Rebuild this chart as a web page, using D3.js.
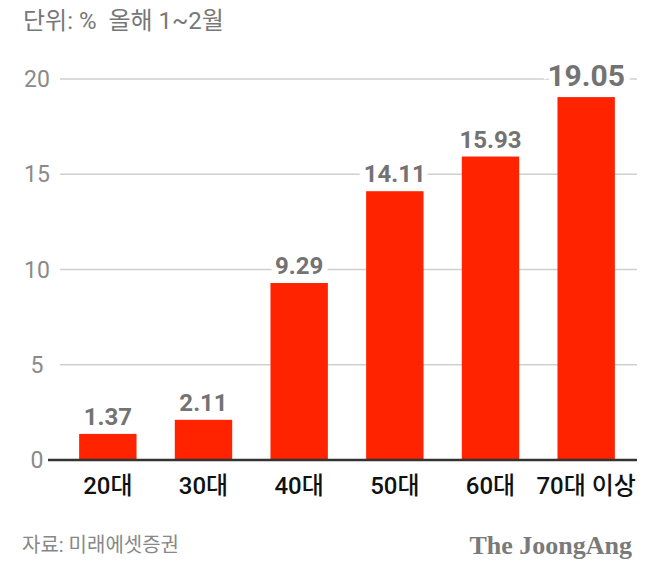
<!DOCTYPE html>
<html>
<head>
<meta charset="utf-8">
<script src="https://cdn.jsdelivr.net/npm/d3@7"></script>
<style>
  html, body { margin: 0; padding: 0; background: #fff; }
  svg { display: block; font-family: Roboto, "Noto Sans CJK KR", sans-serif; }
</style>
</head>
<body>
<div id="chart"></div>
<script>
// 연령대별 비중 (단위: %, 올해 1~2월)
const categories = ["20대", "30대", "40대", "50대", "60대", "70대 이상"];
const values = [1.37, 2.11, 9.29, 14.11, 15.93, 19.05];
const yTicks = [0, 5, 10, 15, 20];

const width = 648, height = 570;
const plot = { left: 60, right: 634, top: 79, bottom: 460 };

const svg = d3.select("#chart").append("svg")
  .attr("width", width)
  .attr("height", height);

const x = d3.scaleBand()
  .domain(categories)
  .range([plot.left, plot.right])
  .paddingInner(0.4)
  .paddingOuter(0.2);

const y = d3.scaleLinear()
  .domain([0, 20])
  .range([plot.bottom, plot.top]);

// grid lines
svg.append("g")
  .selectAll("line")
  .data(yTicks.filter(d => d > 0))
  .join("line")
  .attr("x1", plot.left)
  .attr("x2", 637)
  .attr("y1", d => y(d))
  .attr("y2", d => y(d))
  .attr("stroke", "#cfcfcf")
  .attr("stroke-width", 1.3);

// y tick labels
svg.append("g")
  .selectAll("text")
  .data(yTicks)
  .join("text")
  .attr("x", 37)
  .attr("y", d => y(d) + 8)
  .attr("text-anchor", "middle")
  .attr("fill", "#8a8a8a")
  .style("font-size", "23px")
  .text(d => d);

// bars
svg.append("g")
  .selectAll("rect")
  .data(values)
  .join("rect")
  .attr("x", (d, i) => x(categories[i]))
  .attr("width", x.bandwidth())
  .attr("y", d => y(d))
  .attr("height", d => y(0) - y(d))
  .attr("fill", "#ff2300");

// baseline
svg.append("line")
  .attr("x1", 48)
  .attr("x2", 637)
  .attr("y1", y(0))
  .attr("y2", y(0))
  .attr("stroke", "#333")
  .attr("stroke-width", 2.5);

// value labels
const last = values.length - 1;
svg.append("g")
  .selectAll("text")
  .data(values)
  .join("text")
  .attr("x", (d, i) => x(categories[i]) + x.bandwidth() / 2)
  .attr("y", (d, i) => y(d) - (i === last ? 11 : 9))
  .attr("text-anchor", "middle")
  .attr("fill", "#737373")
  .attr("stroke", "#fff")
  .attr("stroke-width", 12)
  .attr("paint-order", "stroke")
  .style("font-weight", "700")
  .style("font-size", (d, i) => i === last ? "30px" : "24px")
  .text(d => d.toFixed(2));

// category labels
svg.append("g")
  .selectAll("text")
  .data(categories)
  .join("text")
  .attr("x", d => x(d) + x.bandwidth() / 2)
  .attr("y", 494)
  .attr("text-anchor", "middle")
  .attr("fill", "#111")
  .style("font-size", "24px")
  .style("font-weight", "500")
  .text(d => d);

// title
svg.append("text")
  .attr("x", 23)
  .attr("y", 29)
  .attr("fill", "#777")
  .style("font-size", "24px")
  .style("white-space", "pre")
  .text("단위: %  올해 1~2월");

// source
svg.append("text")
  .attr("x", 22)
  .attr("y", 552)
  .attr("fill", "#888")
  .style("font-size", "20px")
  .text("자료: 미래에셋증권");

svg.append("text")
  .attr("x", 632)
  .attr("y", 554)
  .attr("text-anchor", "end")
  .attr("fill", "#7a7a7a")
  .style("font-family", "'Liberation Serif', 'DejaVu Serif', serif")
  .style("font-weight", "700")
  .style("font-size", "26px")
  .text("The JoongAng");
</script>
</body>
</html>
